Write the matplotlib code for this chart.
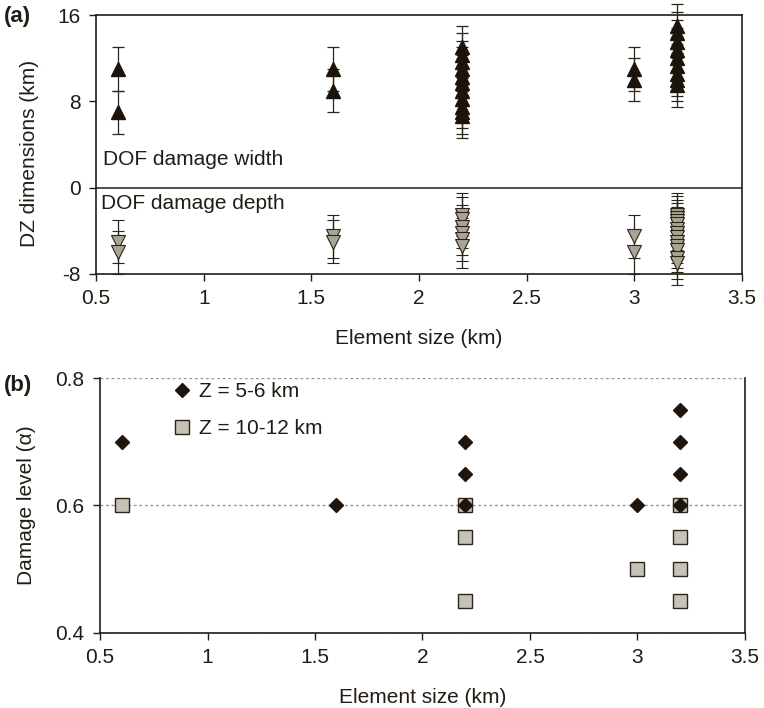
import matplotlib
matplotlib.use('Agg')
import matplotlib.pyplot as plt
from matplotlib.lines import Line2D

plt.rcParams['font.family'] = ['Liberation Sans', 'DejaVu Sans']
plt.rcParams['font.size'] = 15
plt.rcParams['axes.unicode_minus'] = False

INK = '#231c14'

# panel (a): damage zone width (positive) and depth (negative), km
width_x = [0.6, 0.6, 1.6, 1.6] + [2.2] * 11 + [3.0, 3.0] + [3.2] * 9
width_y = [11, 7, 11, 9,
           13, 12.3, 11.6, 11, 10.3, 9.7, 9, 8.2, 7.5, 7, 6.6,
           11, 10,
           15, 14.3, 13.5, 12.8, 12, 11.3, 10.5, 10, 9.5]
width_err = 2

depth_x = [0.6, 0.6, 1.6, 1.6] + [2.2] * 6 + [3.0, 3.0] + [3.2] * 12
depth_y = [-5, -6, -4.5, -5,
           -2.5, -2.9, -3.6, -4.2, -4.8, -5.4,
           -4.5, -6,
           -2.5, -2.8, -3.1, -3.4, -3.8, -4.2, -4.6, -5, -5.4, -5.8, -6.5, -7]
depth_err = 2

# panel (b): damage level
z56_x = [0.6, 1.6, 2.2, 2.2, 2.2, 3.0, 3.2, 3.2, 3.2, 3.2]
z56_y = [0.7, 0.6, 0.7, 0.65, 0.6, 0.6, 0.75, 0.7, 0.65, 0.6]
z1012_x = [0.6, 2.2, 2.2, 2.2, 3.0, 3.2, 3.2, 3.2, 3.2]
z1012_y = [0.6, 0.6, 0.55, 0.45, 0.5, 0.6, 0.55, 0.5, 0.45]

xticks = [0.5, 1, 1.5, 2, 2.5, 3, 3.5]
xticklabels = ['0.5', '1', '1.5', '2', '2.5', '3', '3.5']

fig = plt.figure(figsize=(7.64, 7.08), dpi=100)
ax1 = fig.add_axes([0.1257, 0.613, 0.8455, 0.3658])
ax2 = fig.add_axes([0.1309, 0.106, 0.8442, 0.3601])

for ax in (ax1, ax2):
    ax.set_xlim(0.5, 3.5)
    ax.set_xticks(xticks)
    ax.set_xticklabels(xticklabels)
    ax.tick_params(direction='out', length=5, width=1, color=INK, labelcolor=INK, pad=6)
    for s in ax.spines.values():
        s.set_color(INK)
        s.set_linewidth(1.2)
    ax.set_xlabel('Element size (km)', color=INK, labelpad=15)

# ---- (a)
ax1.set_ylim(-8, 16)
ax1.set_yticks([-8, 0, 8, 16])
ax1.axhline(0, color=INK, lw=1.1)
ax1.errorbar(width_x, width_y, yerr=width_err, fmt='^', ms=10, mfc='#1c140a', mec='#1c140a',
             ecolor='#2b2418', elinewidth=0.9, capsize=4.5, capthick=0.9, clip_on=False, zorder=3)
ax1.errorbar(depth_x, depth_y, yerr=depth_err, fmt='v', ms=10, mfc='#a9a595', mec='#2b2418',
             mew=0.8, ecolor='#2b2418', elinewidth=0.9, capsize=4.5, capthick=0.9, clip_on=False, zorder=3)
ax1.text(0.533, 2.6, 'DOF damage width', va='center', ha='left', color=INK)
ax1.text(0.525, -1.5, 'DOF damage depth', va='center', ha='left', color=INK)
ax1.set_ylabel('DZ dimensions (km)', color=INK)
ax1.yaxis.set_label_coords(-0.089, 0.467)
fig.text(0.005, 0.976, '(a)', fontweight='bold', fontsize=16, va='center', ha='left', color=INK)

# ---- (b)
ax2.set_ylim(0.4, 0.8)
ax2.set_yticks([0.4, 0.6, 0.8])
ax2.set_yticklabels(['0.4', '0.6', '0.8'])
ax2.grid(axis='y', color='#9a968c', ls=(0, (2, 2)), lw=1)
ax2.spines['top'].set_visible(False)
ax2.set_axisbelow(True)
ax2.plot(z1012_x, z1012_y, 's', ms=10, mfc='#c5c3b8', mec='#2b2418', mew=1.0, zorder=3)
ax2.plot(z56_x, z56_y, 'D', ms=7, mfc='#1e160c', mec='#1e160c', zorder=4)
handles = [Line2D([], [], ls='', marker='D', ms=7, mfc='#1e160c', mec='#1e160c'),
           Line2D([], [], ls='', marker='s', ms=10, mfc='#c5c3b8', mec='#2b2418')]
ax2.legend(handles, ['Z = 5-6 km', 'Z = 10-12 km'], loc='upper left', bbox_to_anchor=(0.089, 1.04),
           frameon=False, handlelength=1.0, handletextpad=0.3, labelspacing=0.85,
           borderaxespad=0.3, labelcolor=INK)
ax2.set_ylabel('Damage level (\u03b1)', color=INK)
ax2.yaxis.set_label_coords(-0.099, 0.5)
fig.text(0.005, 0.456, '(b)', fontweight='bold', fontsize=16, va='center', ha='left', color=INK)

fig.savefig('out.png', dpi=100)
